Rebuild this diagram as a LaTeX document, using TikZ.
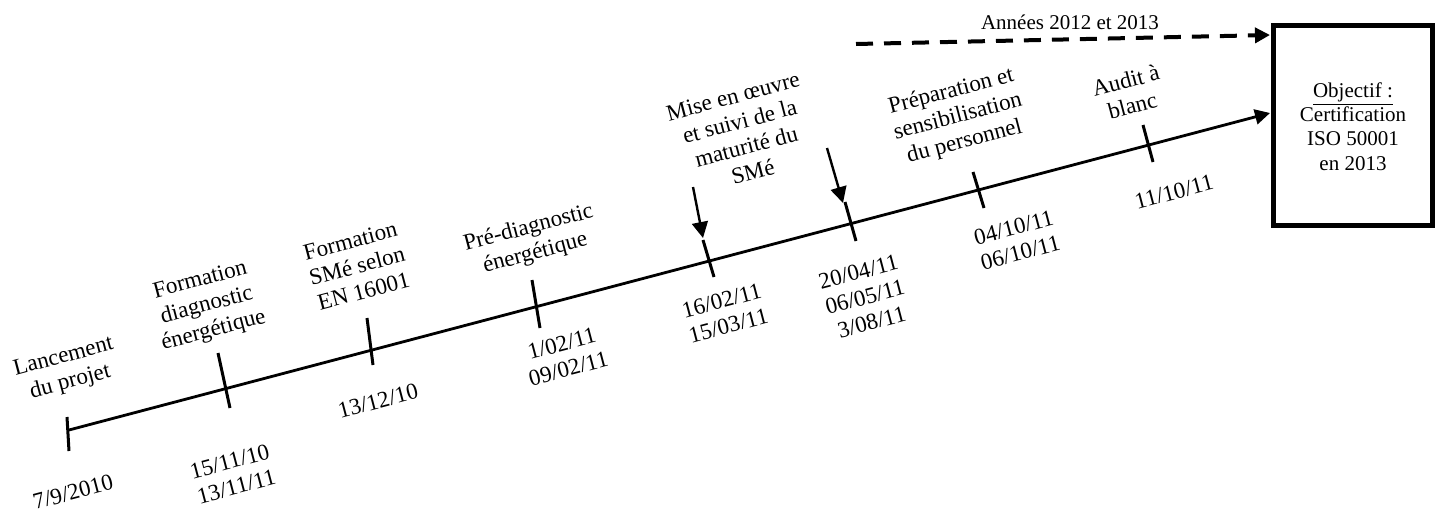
\documentclass[tikz,border=0pt]{standalone}
\usepackage{fontspec}
\setmainfont{Liberation Serif}
\usetikzlibrary{arrows.meta,calc}
\begin{document}
\begin{tikzpicture}[x=0.5pt,y=-0.5pt,
  tlline/.style={line width=1.4pt},
  tickline/.style={line width=1.5pt},
  lab/.style={rotate=14.8, align=center, font=\fontsize{11.5}{13}\selectfont, inner sep=0pt},
  boxtext/.style={align=center, font=\fontsize{10.5}{12.2}\selectfont, inner sep=0pt},
  downarr/.style={line width=1.2pt, -{Triangle[length=8pt,width=8pt]}},
  goalbox/.style={draw, line width=2.35pt, minimum width=79.65pt, minimum height=100.15pt, inner sep=0pt},
]
\useasboundingbox (0,0) rectangle (1440,509);

% goal box
\node[goalbox] (goal) at (1353,125.5) {};
\node[boxtext] (goaltxt) at (1353,126.5) {\underline{Objectif :}\\Certification\\ISO 50001\\en 2013};

% timeline
\coordinate (tlstart) at (69,430);
\coordinate (tlend) at (1270,113);
\draw[tlline, -{Triangle[length=7.5pt,width=7.5pt]}] (tlstart) -- (tlend);

% ticks
\draw[tickline] (67,417) -- (69,451);
\draw[tickline] (218,353) -- (230,408);
\draw[tickline] (367,318) -- (373,365);
\draw[tickline] (532,280) -- (540,328);
\draw[tickline] (703,240) -- (714,277);
\draw[tickline] (845,202) -- (856,241);
\draw[tickline] (973,172) -- (984,208);
\draw[tickline] (1143,125) -- (1153,162);

% down arrows
\coordinate (a4s) at (693,187);
\coordinate (a4e) at (703,238);
\coordinate (a5s) at (827,148);
\coordinate (a5e) at (843,203);
\draw[downarr] (a4s) -- (a4e);
\draw[downarr] (a5s) -- (a5e);

% dashed arrow
\coordinate (dstart) at (856,44);
\coordinate (dend) at (1270,35);
\draw[line width=2pt, dash pattern=on 8.5pt off 5.5pt, -{Triangle[length=7.5pt,width=7.5pt]}] (dstart) -- (dend);
\node[boxtext] (years) at (1070,22) {Années 2012 et 2013};

% labels above
\node[lab] (l0) at (67,370) {Lancement\\du projet};
\node[lab] (l1) at (207,306) {Formation\\diagnostic\\énergétique};
\node[lab] (l2) at (357,266) {Formation\\SMé selon\\EN 16001};
\node[lab] (l3) at (532,241) {Pré-diagnostic\\énergétique};
\node[lab] (l4) at (743,134) {Mise en œuvre\\et suivi de la\\maturité du\\SMé};
\node[lab] (l5) at (958,117) {Préparation et\\sensibilisation\\du personnel};
\node[lab] (l6) at (1129,93) {Audit à\\blanc};

% dates below
\node[lab] (d0) at (73,492) {7/9/2010};
\node[lab] (d1) at (233,474) {15/11/10\\13/11/11};
\node[lab] (d2) at (378,401) {13/12/10};
\node[lab] (d3) at (565,356) {1/02/11\\09/02/11};
\node[lab] (d4) at (725,313) {16/02/11\\15/03/11};
\node[lab] (d5) at (865,297) {20/04/11\\06/05/11\\3/08/11};
\node[lab] (d6) at (1017,240) {04/10/11\\06/10/11};
\node[lab] (d7) at (1174,192) {11/10/11};
\end{tikzpicture}
\end{document}
